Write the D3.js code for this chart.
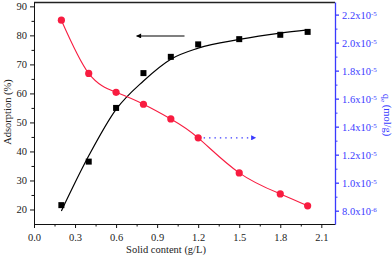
<!DOCTYPE html>
<html>
<head>
<meta charset="utf-8">
<script src="https://cdn.jsdelivr.net/npm/d3@7"></script>
<style>
  body { margin: 0; background: #fff; }
  text { font-family: "Liberation Serif", "Times New Roman", serif; }
</style>
</head>
<body>
<div class="chart"></div>
<script>
// solid content (g/L)
var solid = [0.2, 0.4, 0.6, 0.8, 1.0, 1.2, 1.5, 1.8, 2.0];
// adsorption (%) - black squares
var adsorption = [21.5, 36.5, 55.0, 67.0, 72.6, 76.9, 78.7, 80.2, 81.2];
// fitted curve through adsorption
var adsorptionFit = [19.5, 38.5, 54.5, 64.3, 71.8, 75.6, 78.6, 80.8, 81.9];
// qe (mol/g) - red circles
var qe = [21.6e-6, 17.8e-6, 16.45e-6, 15.6e-6, 14.55e-6, 13.2e-6, 10.7e-6, 9.2e-6, 8.35e-6];

var xTicks = [0.0, 0.3, 0.6, 0.9, 1.2, 1.5, 1.8, 2.1];
var yLeftTicks = [20, 30, 40, 50, 60, 70, 80, 90];
var yRightTicks = [8e-6, 10e-6, 12e-6, 14e-6, 16e-6, 18e-6, 20e-6, 22e-6];

var width = 392, height = 258;
var pLeft = 34, pRight = 335, pTop = 2, pBottom = 224;
var blue = "#3a3aff", red = "#f81c40";

var svg = d3.select(".chart").append("svg")
    .attr("width", width)
    .attr("height", height);

var x = d3.scaleLinear().domain([0, 2.2]).range([pLeft, pRight]);
var yL = d3.scaleLinear().domain([15, 91.5]).range([pBottom, pTop]);
var yR = d3.scaleLinear().domain([7.05e-6, 22.9e-6]).range([pBottom, pTop]);

// frame top
svg.append("line")
    .attr("x1", pLeft).attr("x2", pRight)
    .attr("y1", pTop + 0.5).attr("y2", pTop + 0.5)
    .attr("stroke", "#222").attr("stroke-width", 1.3);

// minor ticks
function minor(ticks, step) {
    return ticks.map(function(t) { return t + step; });
}

var xAxis = svg.append("g")
    .attr("transform", "translate(0," + pBottom + ")")
    .call(d3.axisBottom(x).tickValues(xTicks).tickSize(4).tickSizeOuter(0)
        .tickFormat(d3.format(".1f")));
svg.append("g")
    .attr("transform", "translate(0," + pBottom + ")")
    .call(d3.axisBottom(x).tickValues(minor(xTicks, 0.15).filter(function(d) { return d < 2.2; }))
        .tickSize(2.5).tickSizeOuter(0).tickFormat(""))
    .select(".domain").remove();

var yAxisL = svg.append("g")
    .attr("transform", "translate(" + pLeft + ",0)")
    .call(d3.axisLeft(yL).tickValues(yLeftTicks).tickSize(4).tickSizeOuter(0));
svg.append("g")
    .attr("transform", "translate(" + pLeft + ",0)")
    .call(d3.axisLeft(yL).tickValues(minor(yLeftTicks, 5).filter(function(d) { return d < 91.5; }))
        .tickSize(2.5).tickSizeOuter(0).tickFormat(""))
    .select(".domain").remove();

svg.selectAll(".tick text")
    .style("font-family", "Liberation Serif")
    .style("font-size", "10.5px")
    .attr("fill", "#222");
xAxis.selectAll(".tick text").attr("dy", "0.95em");
svg.selectAll(".domain, .tick line").attr("stroke", "#111");

var yAxisR = svg.append("g")
    .attr("transform", "translate(" + pRight + ",0)")
    .call(d3.axisRight(yR).tickValues(yRightTicks).tickSize(4).tickSizeOuter(0).tickFormat(""));
var yAxisRm = svg.append("g")
    .attr("transform", "translate(" + pRight + ",0)")
    .call(d3.axisRight(yR).tickValues(minor(yRightTicks, 1e-6).filter(function(d) { return d < 22.9e-6; }))
        .tickSize(2.5).tickSizeOuter(0).tickFormat(""));
yAxisRm.select(".domain").remove();
yAxisR.selectAll("line, .domain").attr("stroke", blue).attr("stroke-width", 1.3);
yAxisRm.selectAll("line").attr("stroke", blue);

yAxisR.selectAll(".tick").each(function(d) {
    var e = Math.floor(Math.log10(d) + 1e-9);
    var m = d / Math.pow(10, e);
    var t = d3.select(this).append("text")
        .attr("x", 7).attr("dy", "0.35em")
        .attr("fill", blue)
        .style("font-size", "10.5px")
        .style("font-family", "Liberation Serif");
    t.append("tspan").text(m.toFixed(1) + "x10");
    t.append("tspan").attr("dy", "-0.45em").style("font-size", "7px").text(e);
});

// axis titles
svg.append("text")
    .attr("x", 166).attr("y", 253)
    .attr("text-anchor", "middle")
    .style("font-size", "10.5px")
    .attr("fill", "#222")
    .text("Solid content (g/L)");

svg.append("text")
    .attr("transform", "translate(11,112) rotate(-90)")
    .attr("text-anchor", "middle")
    .style("font-size", "10.5px")
    .attr("fill", "#222")
    .text("Adsorption (%)");

var qLabel = svg.append("text")
    .attr("transform", "translate(383,115) rotate(90)")
    .attr("text-anchor", "middle")
    .style("font-size", "10.5px")
    .attr("fill", blue);
qLabel.append("tspan").text("q");
qLabel.append("tspan").attr("dy", "0.3em").style("font-size", "7px").text("e");
qLabel.append("tspan").attr("dy", "-0.3em").text(" (mol/g)");

// curves
var fitLine = d3.line()
    .x(function(d, i) { return x(solid[i]); })
    .y(function(d) { return yL(d); })
    .curve(d3.curveMonotoneX);

svg.append("path")
    .attr("d", fitLine(adsorptionFit))
    .attr("fill", "none")
    .attr("stroke", "#000")
    .attr("stroke-width", 1.2);

var qLine = d3.line()
    .x(function(d, i) { return x(solid[i]); })
    .y(function(d) { return yR(d); })
    .curve(d3.curveNatural);

svg.append("path")
    .attr("d", qLine(qe))
    .attr("fill", "none")
    .attr("stroke", red)
    .attr("stroke-width", 1.1);

// markers
svg.selectAll("rect.pt")
    .data(adsorption)
    .enter().append("rect")
    .attr("class", "pt")
    .attr("x", function(d, i) { return x(solid[i]) - 3; })
    .attr("y", function(d) { return yL(d) - 3; })
    .attr("width", 6).attr("height", 6)
    .attr("fill", "#000");

svg.selectAll("circle.pt")
    .data(qe)
    .enter().append("circle")
    .attr("class", "pt")
    .attr("cx", function(d, i) { return x(solid[i]); })
    .attr("cy", function(d) { return yR(d); })
    .attr("r", 3.6)
    .attr("fill", red);

// arrows
var defs = svg.append("defs");
function head(id, color) {
    defs.append("marker")
        .attr("id", id)
        .attr("viewBox", "0 0 10 10")
        .attr("refX", 9).attr("refY", 5)
        .attr("markerWidth", 6).attr("markerHeight", 5)
        .attr("markerUnits", "userSpaceOnUse")
        .attr("orient", "auto")
        .append("path")
        .attr("d", "M0,0L10,5L0,10Z")
        .attr("fill", color);
}
head("hk", "#000");
head("hb", blue);

svg.append("line")
    .attr("x1", x(1.1)).attr("x2", x(0.75))
    .attr("y1", yL(79.8)).attr("y2", yL(79.8))
    .attr("stroke", "#000").attr("stroke-width", 1.1)
    .attr("marker-end", "url(#hk)");

svg.append("line")
    .attr("x1", x(1.24)).attr("x2", x(1.62))
    .attr("y1", yR(13.2e-6)).attr("y2", yR(13.2e-6))
    .attr("stroke", blue).attr("stroke-width", 1.4)
    .attr("stroke-dasharray", "1.4,4")
    .attr("marker-end", "url(#hb)");
</script>
</body>
</html>
